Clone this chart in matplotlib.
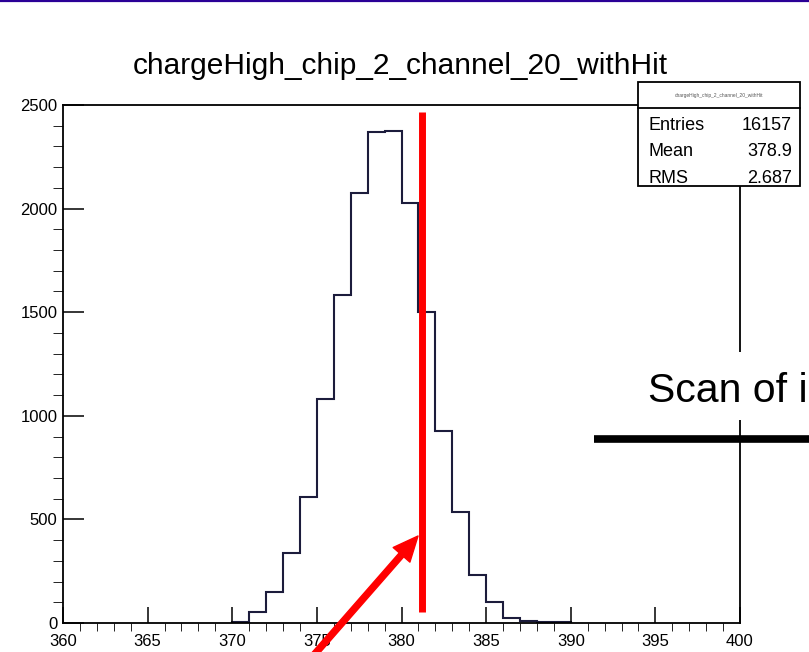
import numpy as np
import matplotlib.pyplot as plt
from matplotlib.patches import Rectangle
from matplotlib.lines import Line2D

plt.rcParams['font.family'] = ['Liberation Sans', 'DejaVu Sans']

# histogram contents, 1-unit bins starting at 370
bin_lo = 370
counts = [5, 55, 151, 336, 610, 1080, 1583, 2077, 2368, 2376,
          2028, 1500, 928, 537, 232, 100, 25, 8, 6, 3]
title = 'chargeHigh_chip_2_channel_20_withHit'
stat_names = ['Entries', 'Mean', 'RMS']
stat_values = ['16157', '378.9', '2.687']
xticks = np.arange(360, 401, 5)
yticks = np.arange(0, 2501, 500)
cut = 381.2  # red marker position

W, H = 809, 652
fig = plt.figure(figsize=(W / 100, H / 100), dpi=100)


# image pixel (from top-left) -> figure fraction
def fx(x):
    return x / W


def fy(y):
    return 1 - y / H


ax = fig.add_axes([fx(63), fy(623), fx(740) - fx(63), fy(105) - fy(623)])
edges = np.arange(bin_lo, bin_lo + len(counts) + 1)
ax.stairs(counts, edges, color='#1c1c3c', lw=1.5)

ax.set_xlim(360, 400)
ax.set_ylim(0, 2500)
ax.set_xticks(xticks)
ax.set_xticks(np.arange(360, 401, 1), minor=True)
ax.set_yticks(yticks)
ax.set_yticks(np.arange(0, 2501, 100), minor=True)
ax.tick_params(direction='in', labelsize=12, width=1.1, colors='black')
ax.tick_params(axis='x', which='major', length=11.5, pad=8)
ax.tick_params(axis='x', which='minor', length=5.8)
ax.tick_params(axis='y', which='major', length=15, pad=4)
ax.tick_params(axis='y', which='minor', length=7.5)
for s in ax.spines.values():
    s.set_linewidth(1.3)

fig.text(0.5 * (fx(130) + fx(670)), fy(74), title, ha='center', va='baseline',
         fontsize=21.5)

# red marker line and arrow (slide annotations)
ax.plot([cut, cut], [55, 2465], color='red', lw=5, solid_capstyle='butt',
        clip_on=False, zorder=5)
ax.annotate('', xy=(fx(418), fy(536)), xycoords='figure fraction',
            xytext=(fx(306), fy(664)), textcoords='figure fraction',
            arrowprops=dict(facecolor='red', edgecolor='red', width=4.3,
                            headwidth=16, headlength=18, shrink=0),
            annotation_clip=False, zorder=6)

# stats box
fig.add_artist(Rectangle((fx(638), fy(186)), fx(800) - fx(638), fy(82) - fy(186),
                         transform=fig.transFigure, facecolor='white',
                         edgecolor='black', lw=1.3, zorder=3))
fig.add_artist(Line2D([fx(638), fx(800)], [fy(108), fy(108)],
                      transform=fig.transFigure, color='black', lw=1.3, zorder=4))
fig.text(fx(719), fy(95), title, ha='center', va='center', fontsize=3.5,
         color='#555555', zorder=4)
for i, (n, v) in enumerate(zip(stat_names, stat_values)):
    yb = fy(130 + i * 26.5)
    fig.text(fx(648), yb, n, ha='left', va='baseline', fontsize=13, zorder=4)
    fig.text(fx(792), yb, v, ha='right', va='baseline', fontsize=13, zorder=4)

# slide overlay: text on white, thick black rule, top border
fig.add_artist(Rectangle((fx(640), fy(420)), fx(809) - fx(640), fy(352) - fy(420),
                         transform=fig.transFigure, facecolor='white',
                         edgecolor='none', zorder=3))
fig.text(fx(648), fy(401.5), 'Scan of i', ha='left', va='baseline',
         fontsize=29.5, zorder=4)
fig.add_artist(Line2D([fx(594), fx(809)], [fy(439), fy(439)],
                      transform=fig.transFigure, color='black', lw=5.5,
                      solid_capstyle='butt', zorder=4))
fig.add_artist(Line2D([0, 1], [fy(1), fy(1)], transform=fig.transFigure,
                      color='#2a0096', lw=1.6, zorder=4))

fig.savefig('out.png', dpi=100)
